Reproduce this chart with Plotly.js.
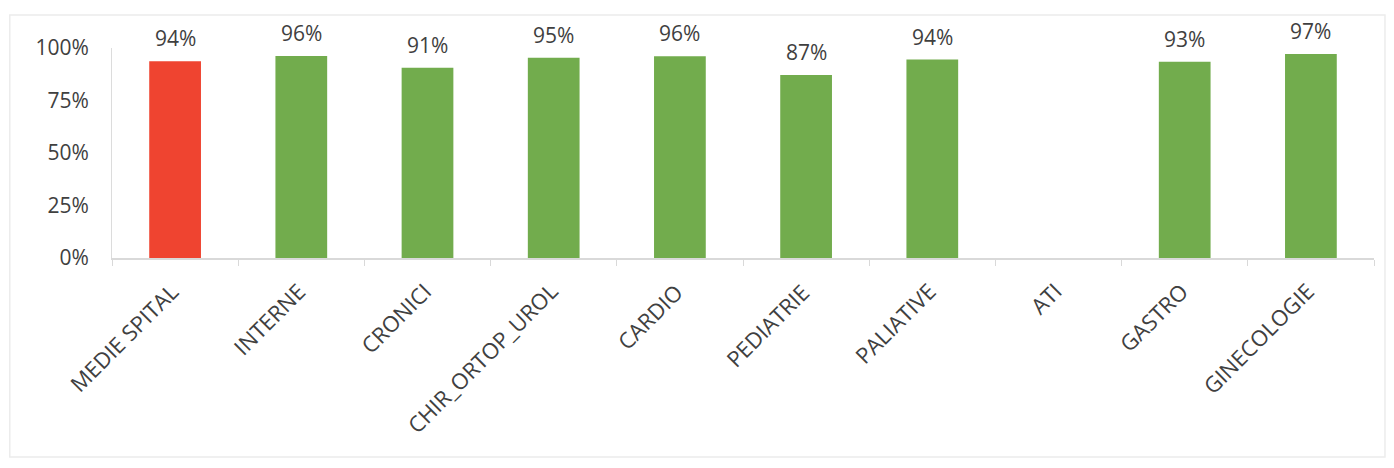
<!DOCTYPE html>
<html>
<head>
<meta charset="utf-8">
<script src="https://cdn.plot.ly/plotly-3.0.1.min.js"></script>
<style>html,body{margin:0;padding:0;background:#fff;}#chart{width:1394px;height:468px;}</style>
</head>
<body>
<div id="chart"></div>
<script>
const categories = ["MEDIE SPITAL","INTERNE","CRONICI","CHIR_ORTOP_UROL","CARDIO","PEDIATRIE","PALIATIVE","ATI","GASTRO","GINECOLOGIE"];
const values = [0.937, 0.962, 0.906, 0.953, 0.961, 0.872, 0.945, null, 0.934, 0.972];
const labels = ["94%","96%","91%","95%","96%","87%","94%","","93%","97%"];
const barColors = ["#EF4430","#72AC4D","#72AC4D","#72AC4D","#72AC4D","#72AC4D","#72AC4D","#72AC4D","#72AC4D","#72AC4D"];
const yTickVals = [0, 0.25, 0.5, 0.75, 1];
const yTickText = ["0%","25%","50%","75%","100%"];

const FONT = "'Open Sans', 'Noto Sans', sans-serif";

const trace = {
  type: "bar",
  x: categories,
  y: values,
  marker: {color: barColors, line: {width: 0}},
  width: 0.41,
  hoverinfo: "x+y"
};

const valueAnnotations = categories.map((c, i) => values[i] == null ? null : ({
  x: c, y: values[i], xref: "x", yref: "y",
  text: labels[i], showarrow: false, yanchor: "bottom", yshift: 7,
  font: {family: FONT, size: 21, color: "#3f3f3f"}
})).filter(a => a);

const categoryAnnotations = categories.map(c => ({
  x: c, y: -0.075, xref: "x", yref: "paper",
  text: c, showarrow: false, textangle: -45,
  xanchor: "right", yanchor: "top", xshift: 12,
  font: {family: FONT, size: 22, color: "#404040"}
}));

const layout = {
  width: 1394, height: 468,
  margin: {l: 112, r: 20, t: 48, b: 210},
  paper_bgcolor: "#ffffff",
  plot_bgcolor: "#ffffff",
  showlegend: false,
  bargap: 0.59,
  font: {family: FONT, color: "#404040"},
  xaxis: {
    type: "category",
    range: [-0.5, categories.length - 0.5],
    autorange: false,
    showticklabels: false,
    showline: true, linecolor: "#d9d9d9", linewidth: 1.5,
    ticks: "outside", tickson: "boundaries", ticklen: 6, tickcolor: "#d9d9d9",
    showgrid: false, zeroline: false
  },
  yaxis: {
    range: [0, 1],
    autorange: false,
    tickvals: yTickVals, ticktext: yTickText,
    tickfont: {family: FONT, size: 21, color: "#404040"},
    showline: true, linecolor: "#dcdcdc", linewidth: 1,
    ticks: "", showgrid: false, zeroline: false,
    ticklabelstandoff: 18
  },
  annotations: valueAnnotations.concat(categoryAnnotations),
  shapes: [{
    type: "rect", xref: "paper", yref: "paper",
    x0: -0.081, x1: 1.0087, y0: -0.948, y1: 1.157,
    line: {color: "#ececec", width: 1.5}, fillcolor: "rgba(0,0,0,0)", layer: "below"
  }]
};

Plotly.newPlot("chart", [trace], layout, {displayModeBar: false, staticPlot: true});
</script>
</body>
</html>
